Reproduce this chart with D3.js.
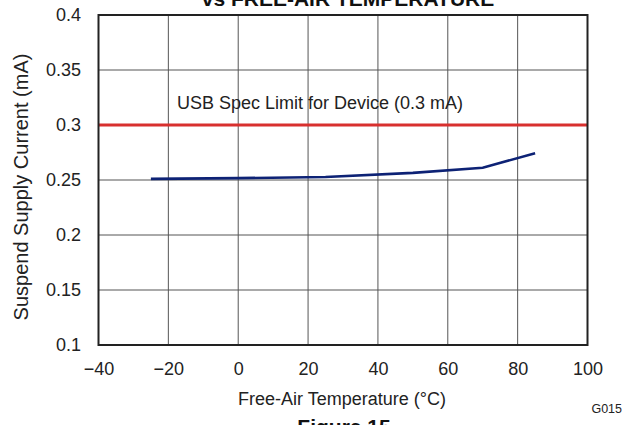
<!DOCTYPE html>
<html><head><meta charset="utf-8">
<script src="https://cdn.jsdelivr.net/npm/d3@7"></script>
<style>body{margin:0;background:#fff;} svg{display:block;font-family:"Liberation Sans",Arial,sans-serif;}</style>
</head><body>
<script>
const temps = [-25, 0, 25, 50, 70, 85];
const current = [0.2510, 0.2517, 0.2527, 0.2565, 0.2612, 0.2743];
const specLimit = 0.3;
const xTicks = [-40, -20, 0, 20, 40, 60, 80, 100];
const yTicks = [0.1, 0.15, 0.2, 0.25, 0.3, 0.35, 0.4];

const W = 624, H = 425;
const m = {l: 98.5, r: 36.5, t: 15, b: 80};
const svg = d3.select("body").append("svg").attr("width", W).attr("height", H);
const x = d3.scaleLinear().domain([-40, 100]).range([m.l, W - m.r]);
const y = d3.scaleLinear().domain([0.1, 0.4]).range([H - m.b, m.t]);

// grid
svg.append("g").selectAll("line").data(xTicks.slice(1, -1)).join("line")
  .attr("x1", d => x(d)).attr("x2", d => x(d)).attr("y1", y(0.4)).attr("y2", y(0.1))
  .attr("stroke", "#555").attr("stroke-width", 1);
svg.append("g").selectAll("line").data(yTicks.slice(1, -1)).join("line")
  .attr("y1", d => y(d)).attr("y2", d => y(d)).attr("x1", x(-40)).attr("x2", x(100))
  .attr("stroke", "#555").attr("stroke-width", 1);

// axes labels
const xAxis = d3.axisBottom(x).tickValues(xTicks).tickSize(0).tickPadding(17)
  .tickFormat(d => d < 0 ? "\u2212" + Math.abs(d) : d);
const gx = svg.append("g").attr("transform", `translate(0,${y(0.1)})`).call(xAxis);
gx.select(".domain").remove();
gx.selectAll("text").attr("font-size", 18).attr("fill", "#222").attr("font-family", "Liberation Sans, Arial, sans-serif");

const yAxis = d3.axisLeft(y).tickValues(yTicks).tickSize(0).tickPadding(17.5)
  .tickFormat(d => String(+d.toFixed(2)));
const gy = svg.append("g").attr("transform", `translate(${x(-40)},0)`).call(yAxis);
gy.select(".domain").remove();
gy.selectAll("text").attr("font-size", 18).attr("fill", "#222").attr("font-family", "Liberation Sans, Arial, sans-serif");

// spec line
svg.append("line").attr("x1", x(-40)).attr("x2", x(100)).attr("y1", y(specLimit)).attr("y2", y(specLimit))
  .attr("stroke", "#d8302e").attr("stroke-width", 3);
svg.append("text").attr("x", 177).attr("y", 109).attr("font-size", 18).attr("fill", "#222")
  .text("USB Spec Limit for Device (0.3 mA)");

// data line
svg.append("path").datum(temps.map((t, i) => [t, current[i]]))
  .attr("d", d3.line().x(d => x(d[0])).y(d => y(d[1])))
  .attr("fill", "none").attr("stroke", "#0d2275").attr("stroke-width", 2.6);

// border
svg.append("rect").attr("x", x(-40)).attr("y", y(0.4)).attr("width", x(100) - x(-40)).attr("height", y(0.1) - y(0.4))
  .attr("fill", "none").attr("stroke", "#222").attr("stroke-width", 2);

// titles
svg.append("text").attr("x", 348).attr("y", 6).attr("text-anchor", "middle").attr("font-size", 21)
  .attr("font-weight", "bold").attr("fill", "#111").text("vs FREE-AIR TEMPERATURE");
svg.append("text").attr("x", 342).attr("y", 405).attr("text-anchor", "middle").attr("font-size", 18)
  .attr("fill", "#222").text("Free-Air Temperature (\u00B0C)");
svg.append("text").attr("transform", `translate(27.5,187) rotate(-90)`)
  .attr("text-anchor", "middle").attr("font-size", 20).attr("fill", "#222").text("Suspend Supply Current (mA)");
svg.append("text").attr("x", 622).attr("y", 413).attr("text-anchor", "end").attr("font-size", 12.5)
  .attr("fill", "#222").text("G015");
svg.append("text").attr("x", 344).attr("y", 434).attr("text-anchor", "middle").attr("font-size", 21)
  .attr("font-weight", "bold").attr("fill", "#111").text("Figure 15");
</script>
</body></html>
